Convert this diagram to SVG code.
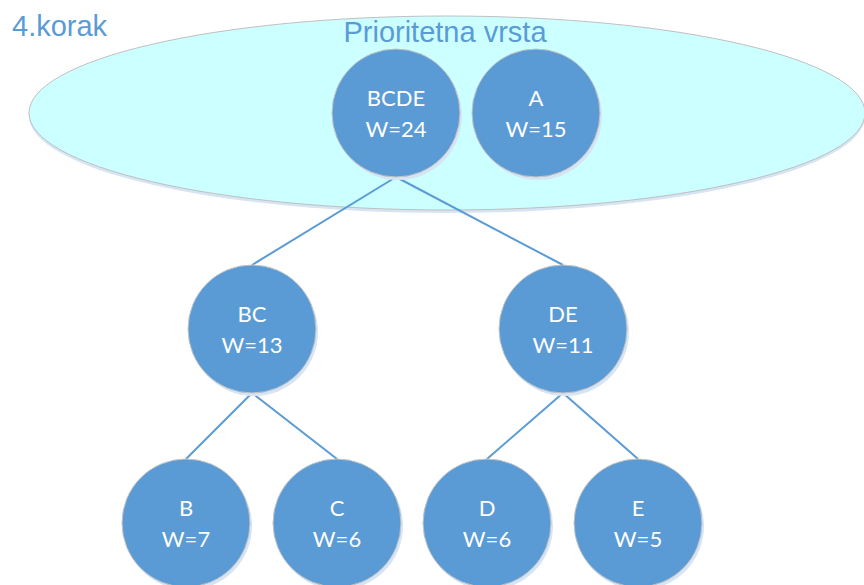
<svg xmlns="http://www.w3.org/2000/svg" width="864" height="585" viewBox="0 0 864 585">
  <style>
    .title { font-family: "Liberation Sans", Arial, sans-serif; font-size: 29px; fill: #5b9bd5; }
    .node circle.body { fill: #5b9bd5; stroke: #c4c4c4; stroke-width: 1; }
    .node circle.shade { fill: #d6e4f3; }
    .node text { font-family: Lato, "Open Sans", sans-serif; font-size: 22px; fill: #ffffff; text-anchor: middle; }
    .edges line { stroke: #5b9bd5; stroke-width: 2; }
  </style>
  <rect width="864" height="585" fill="#ffffff"/>

  <!-- queue container -->
  <g id="queue">
    <ellipse cx="447" cy="116" rx="418" ry="97" fill="#d6e4f3"/>
    <ellipse cx="447" cy="113" rx="418" ry="97" fill="#ccffff" stroke="#c0c0c0" stroke-width="1"/>
  </g>

  <text class="title" x="12" y="36">4.korak</text>
  <text class="title" x="445" y="42" text-anchor="middle">Prioritetna vrsta</text>

  <!-- connectors -->
  <g class="edges" id="edges">
    <line x1="396" y1="177" x2="252" y2="265"/>
    <line x1="396" y1="177" x2="563" y2="265"/>
    <line x1="252" y1="393" x2="186" y2="459"/>
    <line x1="252" y1="393" x2="337" y2="459"/>
    <line x1="563" y1="393" x2="487" y2="459"/>
    <line x1="563" y1="393" x2="638" y2="459"/>
  </g>

  <g class="node" id="node-BCDE">
    <circle class="shade" cx="398" cy="116" r="64"/>
    <circle class="body" cx="396" cy="113" r="64"/>
    <text x="396" y="106">BCDE</text>
    <text x="396" y="137">W=24</text>
  </g>
  <g class="node" id="node-A">
    <circle class="shade" cx="538" cy="116" r="64"/>
    <circle class="body" cx="536" cy="113" r="64"/>
    <text x="536" y="106">A</text>
    <text x="536" y="137">W=15</text>
  </g>
  <g class="node" id="node-BC">
    <circle class="shade" cx="254" cy="332" r="64"/>
    <circle class="body" cx="252" cy="329" r="64"/>
    <text x="252" y="322">BC</text>
    <text x="252" y="353">W=13</text>
  </g>
  <g class="node" id="node-DE">
    <circle class="shade" cx="565" cy="332" r="64"/>
    <circle class="body" cx="563" cy="329" r="64"/>
    <text x="563" y="322">DE</text>
    <text x="563" y="353">W=11</text>
  </g>
  <g class="node" id="node-B">
    <circle class="shade" cx="188" cy="526" r="64"/>
    <circle class="body" cx="186" cy="523" r="64"/>
    <text x="186" y="516">B</text>
    <text x="186" y="547">W=7</text>
  </g>
  <g class="node" id="node-C">
    <circle class="shade" cx="339" cy="526" r="64"/>
    <circle class="body" cx="337" cy="523" r="64"/>
    <text x="337" y="516">C</text>
    <text x="337" y="547">W=6</text>
  </g>
  <g class="node" id="node-D">
    <circle class="shade" cx="489" cy="526" r="64"/>
    <circle class="body" cx="487" cy="523" r="64"/>
    <text x="487" y="516">D</text>
    <text x="487" y="547">W=6</text>
  </g>
  <g class="node" id="node-E">
    <circle class="shade" cx="640" cy="526" r="64"/>
    <circle class="body" cx="638" cy="523" r="64"/>
    <text x="638" y="516">E</text>
    <text x="638" y="547">W=5</text>
  </g>
</svg>
